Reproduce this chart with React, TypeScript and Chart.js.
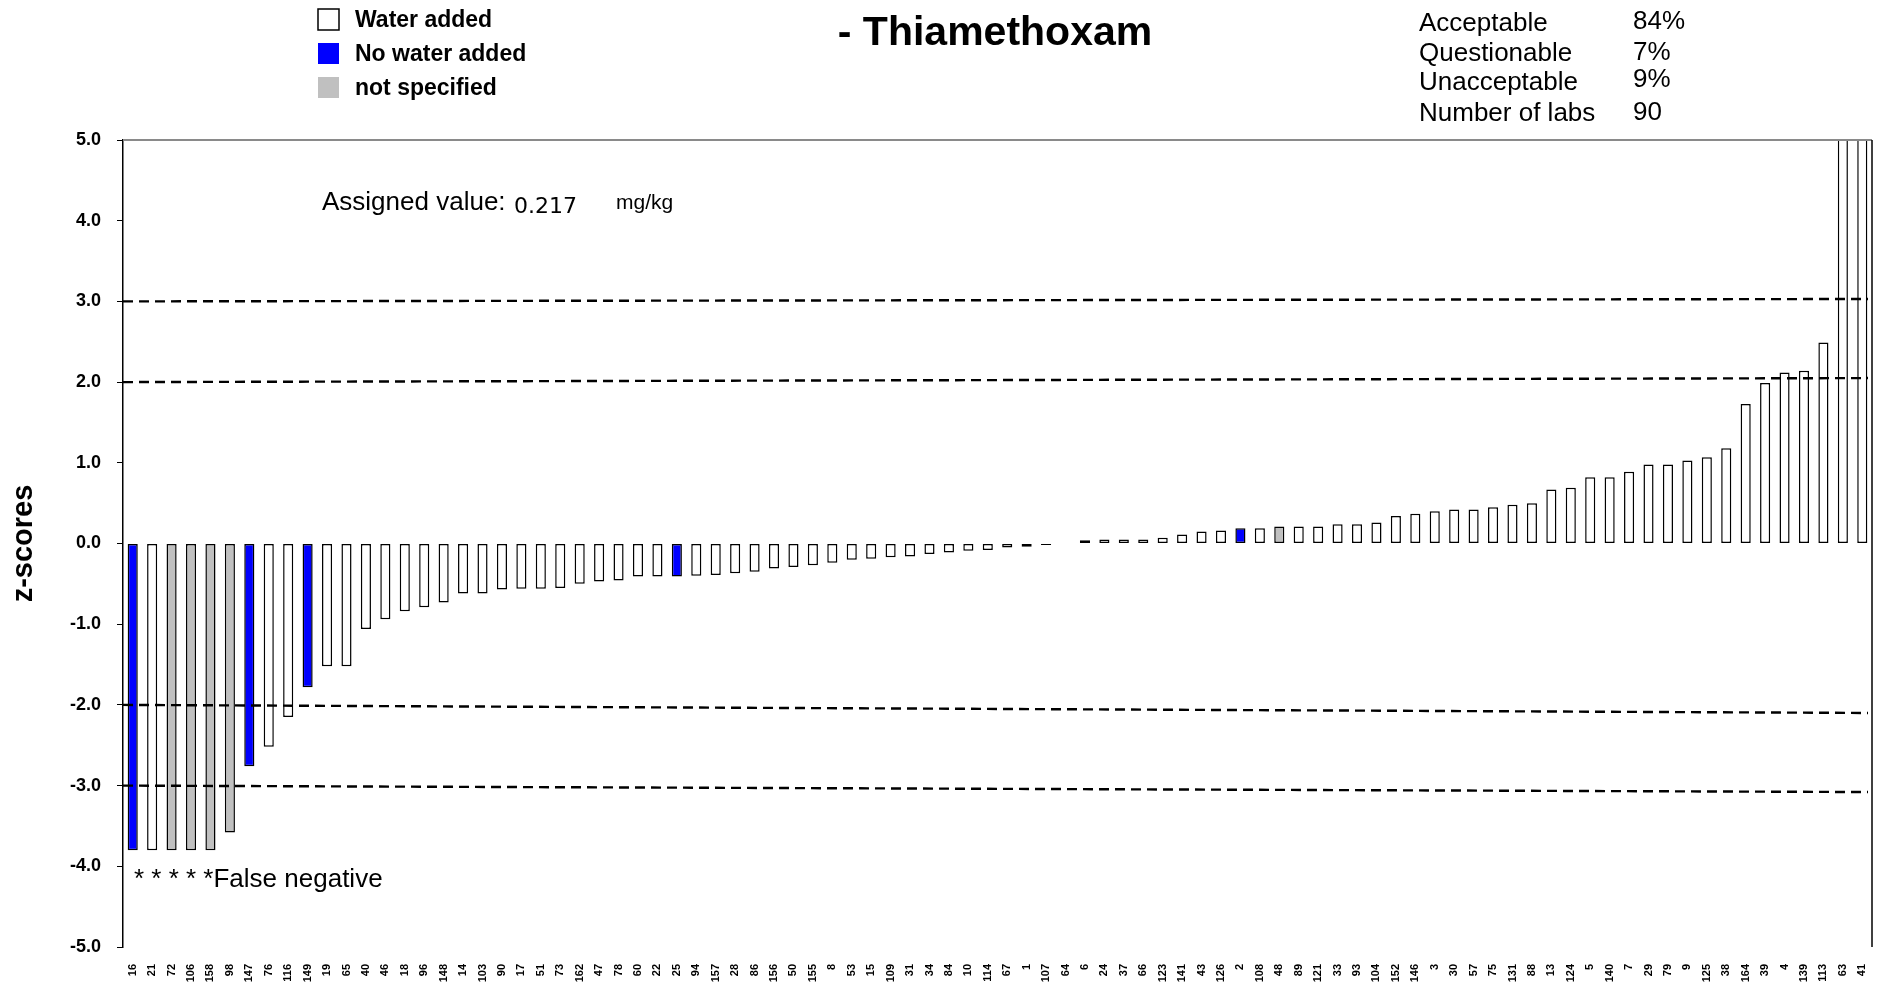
import React, { useEffect, useRef } from 'react';
import { Chart, registerables } from 'chart.js';

Chart.register(...registerables);

const labIds = ['16','21','72','106','158','98','147','76','116','149','19','65','40','46','18','96','148','14','103','90','17','51','73','162','47','78','60','22','25','94','157','28','86','156','50','155','8','53','15','109','31','34','84','10','114','67','1','107','64','6','24','37','66','123','141','43','126','2','108','48','89','121','33','93','104','152','146','3','30','57','75','131','88','13','124','5','140','7','29','79','9','125','38','164','39','4','139','113','63','41'];

const zScores = [-3.8,-3.8,-3.8,-3.8,-3.8,-3.58,-2.76,-2.52,-2.15,-1.78,-1.52,-1.52,-1.06,-0.94,-0.84,-0.79,-0.73,-0.62,-0.62,-0.57,-0.56,-0.56,-0.55,-0.5,-0.47,-0.46,-0.41,-0.41,-0.41,-0.4,-0.39,-0.37,-0.35,-0.31,-0.29,-0.27,-0.24,-0.2,-0.19,-0.17,-0.16,-0.13,-0.11,-0.09,-0.08,-0.05,-0.04,-0.02,0,0.04,0.05,0.05,0.05,0.07,0.11,0.15,0.16,0.19,0.19,0.21,0.21,0.21,0.24,0.24,0.26,0.34,0.37,0.4,0.42,0.42,0.45,0.48,0.5,0.67,0.69,0.82,0.82,0.89,0.98,0.98,1.03,1.07,1.18,1.73,1.99,2.12,2.14,2.49,6.5,8.0];

// W = water added, N = no water added, U = not specified
const waterGroup = ['N','W','U','U','U','U','N','W','W','N','W','W','W','W','W','W','W','W','W','W','W','W','W','W','W','W','W','W','N','W','W','W','W','W','W','W','W','W','W','W','W','W','W','W','W','W','W','W','W','W','W','W','W','W','W','W','W','N','W','U','W','W','W','W','W','W','W','W','W','W','W','W','W','W','W','W','W','W','W','W','W','W','W','W','W','W','W','W','W','W'];

const groupColors: Record<string, string> = { W: '#ffffff', N: '#0000ff', U: '#c0c0c0' };
const legendLabels = ['Water added', 'No water added', 'not specified'];
const legendGroups = ['W', 'N', 'U'];

const limitStart = [3, 2, -2, -3];
const limitEnd = [3.03, 2.05, -2.1, -3.08];

const statLabels = ['Acceptable', 'Questionable', 'Unacceptable', 'Number of labs'];
const statValues = ['84%', '7%', '9%', '90'];

const chartTitle = '- Thiamethoxam';
const yTitle = 'z-scores';
const assignedValue = '0.217';

const SANS = "'Liberation Sans', Arial, sans-serif";

const overlay = {
  id: 'overlay',
  afterDatasetsDraw(chart: any) {
    const { ctx, chartArea: a, scales } = chart;
    const y = scales.y;
    ctx.save();
    ctx.strokeStyle = '#000';
    ctx.lineWidth = 2.4;
    ctx.setLineDash([10, 6]);
    limitStart.forEach((v, i) => {
      ctx.beginPath();
      ctx.moveTo(a.left, y.getPixelForValue(v));
      ctx.lineTo(a.right - 4, y.getPixelForValue(limitEnd[i]));
      ctx.stroke();
    });
    ctx.setLineDash([]);
    ctx.strokeStyle = '#8a8a8a';
    ctx.lineWidth = 2;
    ctx.beginPath();
    ctx.moveTo(a.left, a.top);
    ctx.lineTo(a.right, a.top);
    ctx.stroke();
    ctx.strokeStyle = '#000';
    ctx.lineWidth = 1.5;
    ctx.beginPath();
    ctx.moveTo(a.right, a.top);
    ctx.lineTo(a.right, a.bottom);
    ctx.stroke();
    ctx.restore();
  },
  afterDraw(chart: any) {
    const { ctx } = chart;
    ctx.save();
    ctx.fillStyle = '#000';
    // title
    ctx.font = `bold 41px ${SANS}`;
    ctx.textAlign = 'center';
    ctx.textBaseline = 'middle';
    ctx.fillText(chartTitle, 995, 34);

    // legend
    ctx.textAlign = 'left';
    ctx.font = `bold 23px ${SANS}`;
    legendLabels.forEach((lbl, i) => {
      const top = 9 + i * 34;
      ctx.fillStyle = groupColors[legendGroups[i]];
      ctx.fillRect(318, top, 21, 21);
      if (legendGroups[i] === 'W') {
        ctx.strokeStyle = '#000';
        ctx.lineWidth = 1.5;
        ctx.strokeRect(318, top, 21, 21);
      }
      ctx.fillStyle = '#000';
      ctx.fillText(lbl, 355, top + 12);
    });

    // stats
    ctx.font = `26px ${SANS}`;
    ctx.textBaseline = 'alphabetic';
    const labelBase = [30.5, 60.5, 90, 120.5];
    const valueBase = [29, 59.5, 87, 119.5];
    statLabels.forEach((s, i) => ctx.fillText(s, 1419, labelBase[i]));
    statValues.forEach((s, i) => ctx.fillText(s, 1633, valueBase[i]));

    // assigned value
    ctx.textBaseline = 'middle';
    ctx.font = `26px ${SANS}`;
    ctx.fillText('Assigned value:', 322, 203);
    ctx.font = `22px 'DejaVu Sans', sans-serif`;
    ctx.fillText(assignedValue, 514, 207);
    ctx.font = `21px ${SANS}`;
    ctx.fillText('mg/kg', 616, 203);

    // false negative
    ctx.font = `26px ${SANS}`;
    ctx.fillText('* * * * *False negative', 134, 880);
    ctx.restore();
  },
};

export default function App() {
  const canvasRef = useRef<HTMLCanvasElement | null>(null);

  useEffect(() => {
    const canvas = canvasRef.current;
    if (!canvas) return;
    const chart = new Chart(canvas, {
      type: 'bar',
      data: {
        labels: labIds,
        datasets: [
          {
            data: zScores,
            backgroundColor: waterGroup.map((g) => groupColors[g]),
            borderColor: '#000',
            borderWidth: 1.5,
            borderSkipped: false,
            categoryPercentage: 1,
            barPercentage: 0.52,
            clip: 0,
          } as any,
        ],
      },
      options: {
        animation: false,
        responsive: false,
        devicePixelRatio: 1,
        layout: { padding: { top: 140, right: 9, left: 0, bottom: 0 } },
        plugins: { legend: { display: false }, tooltip: { enabled: false }, title: { display: false } },
        scales: {
          x: {
            offset: true,
            grid: { display: false, drawTicks: false },
            border: { display: false },
            ticks: {
              autoSkip: false,
              minRotation: 90,
              maxRotation: 90,
              padding: 17,
              color: '#000',
              font: { family: SANS, size: 11, weight: 'bold' },
            },
            afterFit: (scale: any) => {
              scale.height = 40;
              scale.paddingLeft = 0;
              scale.paddingRight = 0;
            },
          },
          y: {
            min: -5,
            max: 5,
            ticks: {
              stepSize: 1,
              padding: 16,
              color: '#000',
              font: { family: SANS, size: 18, weight: 'bold' },
              callback: (v: any) => Number(v).toFixed(1),
            },
            grid: { drawOnChartArea: false, drawTicks: true, tickLength: 6, color: '#000', lineWidth: 1 },
            border: { display: true, color: '#000', width: 1.5 },
            title: {
              display: true,
              text: yTitle,
              color: '#000',
              padding: { top: 7, bottom: 0 },
              font: { family: SANS, size: 29, weight: 'bold' },
            },
            afterFit: (scale: any) => {
              scale.width = 123;
              scale.paddingTop = 0;
              scale.paddingBottom = 0;
            },
          },
        },
      } as any,
      plugins: [overlay],
    });
    return () => chart.destroy();
  }, []);

  return (
    <div style={{ position: 'absolute', left: 0, top: 0, width: 1881, height: 987, background: '#fff' }}>
      <canvas ref={canvasRef} width={1881} height={987} style={{ display: 'block' }} />
    </div>
  );
}
